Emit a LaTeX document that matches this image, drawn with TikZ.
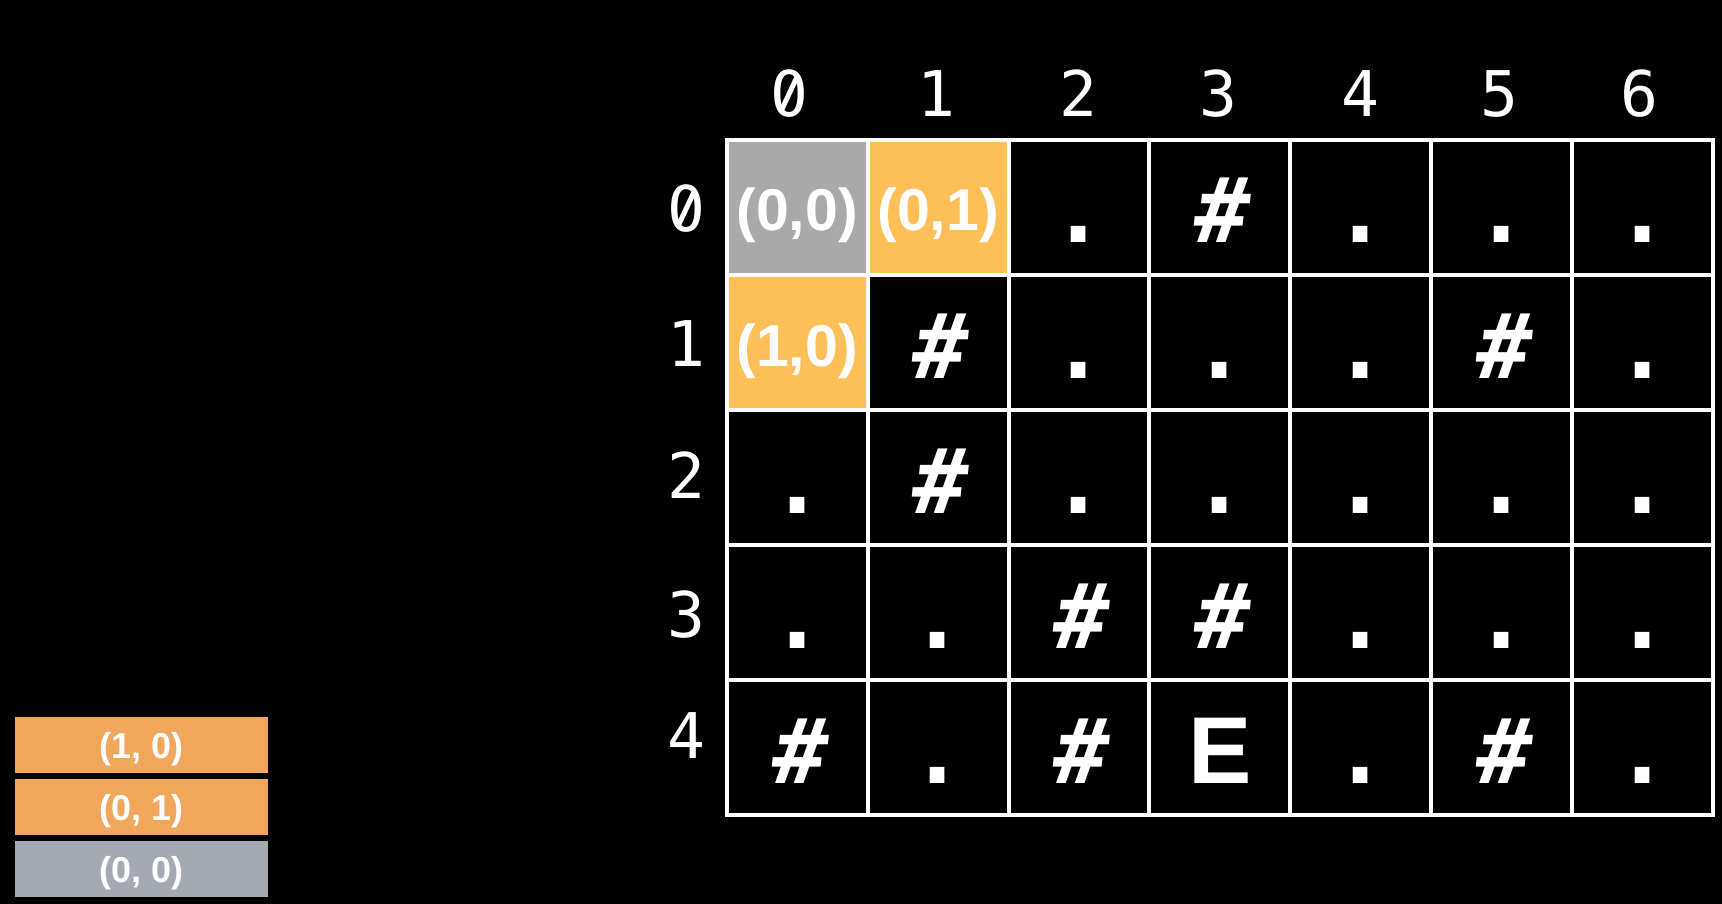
\documentclass[tikz,border=0pt]{standalone}
\usepackage{fontspec}
\setmainfont{Liberation Sans}
\newfontfamily\gridmono{DejaVu Sans Mono}
\newfontfamily\hashfont{DejaVu Sans Mono Bold}[FakeSlant=0.1]
\definecolor{visitgray}{HTML}{A8A9A8}
\definecolor{queueorange}{HTML}{FFBF58}
\definecolor{stackorange}{HTML}{F0A65B}
\definecolor{stackgray}{HTML}{A4A9B3}
\tikzset{
  cellbox/.style={draw=white, line width=4pt, minimum width=140.9pt, minimum height=135pt, inner sep=0pt, outer sep=0pt},
  headnum/.style={text=white, anchor=base, inner sep=0pt, font=\gridmono\fontsize{63}{63}\selectfont},
  zeroslash/.style={draw=white, line width=5pt},
  sym/.style={text=white, anchor=base, inner sep=0pt, font=\gridmono\bfseries\fontsize{90}{90}\selectfont},
  hash/.style={text=white, anchor=base, inner sep=0pt, font=\hashfont\fontsize{90}{90}\selectfont},
  coord/.style={text=white, anchor=base, inner sep=0pt, font=\bfseries\fontsize{59}{59}\selectfont},
  goal/.style={text=white, anchor=base, inner sep=0pt, font=\bfseries\fontsize{95}{95}\selectfont},
  stackbox/.style={anchor=north west, minimum width=253pt, minimum height=56pt, inner sep=0pt, outer sep=0pt},
  stacktext/.style={text=white, anchor=base, inner sep=0pt, font=\bfseries\fontsize{36}{36}\selectfont},
}
\begin{document}
\begin{tikzpicture}[x=1pt,y=-1pt]
\fill[black] (0,0) rectangle (1722,904);
\useasboundingbox (0,0) rectangle (1722,904);
% grid cells
\foreach \r in {0,...,4}{
  \foreach \c in {0,...,6}{
    \node[cellbox] (cell-\r-\c) at ({726.7+140.9*(\c+0.5)},{140+135*(\r+0.5)}) {};
  }
}
% highlighted cells
\fill[visitgray] ([shift={(2,2)}]cell-0-0.north west) rectangle ([shift={(-2,-2)}]cell-0-0.south east);
\fill[queueorange] ([shift={(2,2)}]cell-0-1.north west) rectangle ([shift={(-2,-2)}]cell-0-1.south east);
\fill[queueorange] ([shift={(2,2)}]cell-1-0.north west) rectangle ([shift={(-2,-2)}]cell-1-0.south east);
% cell texts
\foreach \r/\c/\s/\d/\t in {
  0/0/coord/91/{(0,0)}, 0/1/coord/91/{(0,1)}, 0/2/sym/103/., 0/3/hash/103/\#, 0/4/sym/103/., 0/5/sym/103/., 0/6/sym/103/.,
  1/0/coord/91/{(1,0)}, 1/1/hash/103/\#, 1/2/sym/103/., 1/3/sym/103/., 1/4/sym/103/., 1/5/hash/103/\#, 1/6/sym/103/.,
  2/0/sym/103/., 2/1/hash/103/\#, 2/2/sym/103/., 2/3/sym/103/., 2/4/sym/103/., 2/5/sym/103/., 2/6/sym/103/.,
  3/0/sym/103/., 3/1/sym/103/., 3/2/hash/103/\#, 3/3/hash/103/\#, 3/4/sym/103/., 3/5/sym/103/., 3/6/sym/103/.,
  4/0/hash/103/\#, 4/1/sym/103/., 4/2/hash/103/\#, 4/3/goal/103/E, 4/4/sym/103/., 4/5/hash/103/\#, 4/6/sym/103/.}{
  \node[\s] (txt-\r-\c) at ([yshift=-\d pt]cell-\r-\c.north) {\t};
}
% column headers
\foreach \c/\x in {0/789, 1/936, 2/1078, 3/1218, 4/1360, 5/1499, 6/1639}{
  \node[headnum] (colhead-\c) at (\x,117) {\c};
}
% row labels
\foreach \r/\y in {0/232, 1/366, 2/498, 3/637, 4/758}{
  \node[headnum] (rowhead-\r) at (686,\y) {\r};
}
% slashed zeros (cover the dot, draw the slash)
\foreach \z in {colhead-0, rowhead-0}{
  \fill[black] (\z.center) ellipse (6pt and 13pt);
  \draw[zeroslash] ([shift={(7.5,-16)}]\z.center) -- ([shift={(-7.5,16)}]\z.center);
}
% stack
\node[stackbox, fill=stackorange] (stack-top) at (15,717) {};
\node[stackbox, fill=stackorange] (stack-mid) at (15,779) {};
\node[stackbox, fill=stackgray] (stack-bot) at (15,841) {};
\node[stacktext] (stack-top-t) at ([yshift=-41pt]stack-top.north) {(1, 0)};
\node[stacktext] (stack-mid-t) at ([yshift=-41pt]stack-mid.north) {(0, 1)};
\node[stacktext] (stack-bot-t) at ([yshift=-41pt]stack-bot.north) {(0, 0)};
\end{tikzpicture}
\end{document}
